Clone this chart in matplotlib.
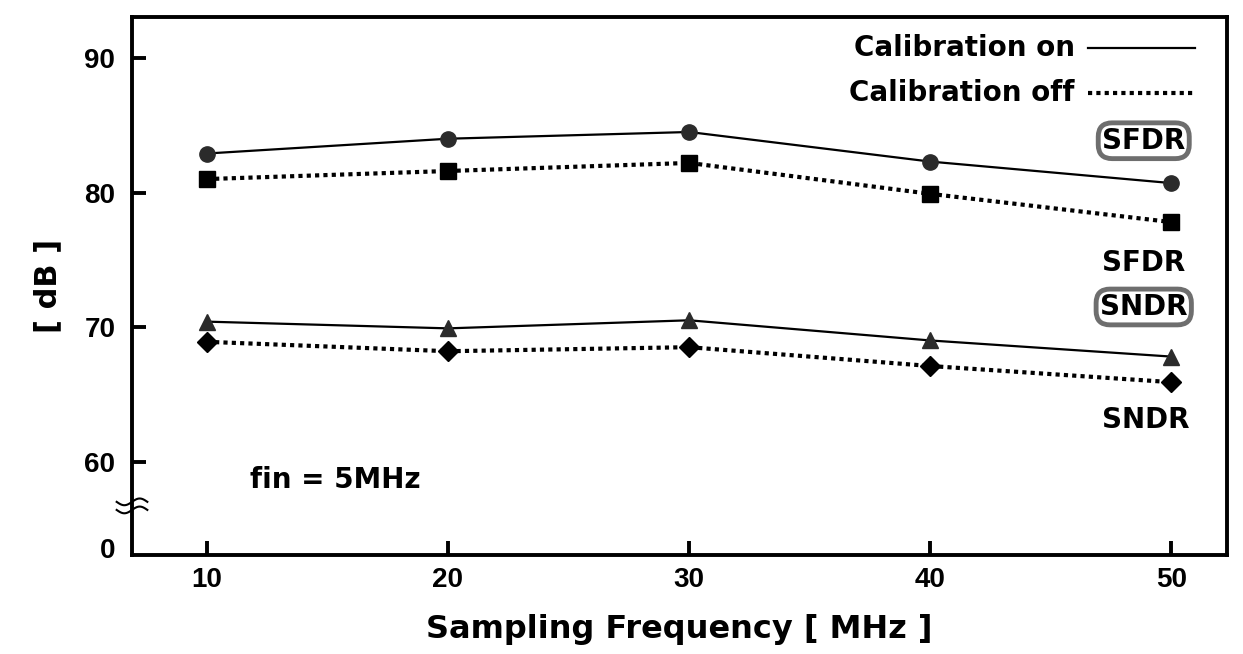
import numpy as np
import matplotlib
matplotlib.use("Agg")
import matplotlib.pyplot as plt
import matplotlib.transforms as mtransforms

plt.rcParams['font.family'] = ['Liberation Sans', 'DejaVu Sans']
plt.rcParams['font.weight'] = 'bold'
WIDE = ['DejaVu Sans']

# sampling frequency [MHz]
freq = [10, 20, 30, 40, 50]

# measured values [dB]
sfdr_on = [82.9, 84.0, 84.5, 82.3, 80.7]
sfdr_off = [81.0, 81.6, 82.2, 79.9, 77.8]
sndr_on = [70.4, 69.9, 70.5, 69.0, 67.8]
sndr_off = [68.9, 68.2, 68.5, 67.1, 65.9]

y_ticks = [53.6, 60, 70, 80, 90]
y_tick_labels = ['0', '60', '70', '80', '90']
x_ticks = [10, 20, 30, 40, 50]

fig = plt.figure(figsize=(12.43, 6.54), dpi=100)
ax = fig.add_axes([0.1062, 0.1514, 0.8809, 0.8226])

# curves
ax.plot(freq, sfdr_on, color='black', lw=1.6, marker='o', ms=11,
        mfc='#2b2b2b', mec='#2b2b2b', zorder=3)
ax.plot(freq, sfdr_off, color='black', lw=3, ls=(0, (1.0, 1.0)), marker='s', ms=11,
        mfc='black', mec='black', zorder=3)
ax.plot(freq, sndr_on, color='black', lw=1.6, marker='^', ms=12,
        mfc='#2b2b2b', mec='#2b2b2b', zorder=3)
ax.plot(freq, sndr_off, color='black', lw=3, ls=(0, (1.0, 1.0)), marker='D', ms=10,
        mfc='black', mec='black', zorder=3)

ax.set_xlim(6.9, 52.3)
ax.set_ylim(53.05, 93.05)

ax.set_xticks(x_ticks)
ax.set_xticklabels([str(v) for v in x_ticks])
ax.set_yticks(y_ticks)
ax.set_yticklabels(y_tick_labels)
ax.tick_params(axis='both', direction='in', length=10, width=2.8, labelsize=20)
ax.tick_params(axis='x', pad=9)
ax.tick_params(axis='y', pad=12)
ax.yaxis.get_major_ticks()[0].tick1line.set_visible(False)
for sp in ax.spines.values():
    sp.set_linewidth(2.8)

ax.set_xlabel('Sampling Frequency [ MHz ]', fontsize=23, fontweight='bold',
              family=WIDE, labelpad=15)
ax.set_ylabel('[ dB ]', fontsize=22, fontweight='bold', family=WIDE, labelpad=16)

# axis break mark
trans = mtransforms.blended_transform_factory(ax.transAxes, ax.transData)
t = np.linspace(-0.014, 0.014, 40)
for off in (0.3, -0.3):
    ax.plot(t, 56.7 + off + 0.25 * np.sin(t / 0.014 * np.pi), color='black', lw=1.5,
            transform=trans, clip_on=False, zorder=4)

# legend drawn as text and lines
ax.text(0.861, 0.942, 'Calibration on', transform=ax.transAxes, ha='right', va='center',
        fontsize=20, fontweight='bold', family=WIDE)
ax.plot([0.873, 0.971], [0.942, 0.942], color='black', lw=1.6, transform=ax.transAxes)
ax.text(0.861, 0.859, 'Calibration off', transform=ax.transAxes, ha='right', va='center',
        fontsize=20, fontweight='bold', family=WIDE)
ax.plot([0.873, 0.971], [0.859, 0.859], color='black', lw=3, ls=(0, (1.0, 1.0)),
        transform=ax.transAxes)

box = dict(boxstyle='round,pad=0.14,rounding_size=0.5', fc='white', ec='#6e6e6e', lw=3.5)
ax.text(0.924, 0.770, 'SFDR', transform=ax.transAxes, ha='center', va='center',
        fontsize=20, fontweight='bold', family=WIDE, bbox=box)
ax.text(0.924, 0.543, 'SFDR', transform=ax.transAxes, ha='center', va='center',
        fontsize=20, fontweight='bold', family=WIDE)
ax.text(0.924, 0.461, 'SNDR', transform=ax.transAxes, ha='center', va='center',
        fontsize=20, fontweight='bold', family=WIDE, bbox=box)
ax.text(0.926, 0.251, 'SNDR', transform=ax.transAxes, ha='center', va='center',
        fontsize=20, fontweight='bold', family=WIDE)

ax.text(0.108, 0.140, 'fin = 5MHz', transform=ax.transAxes, ha='left', va='center',
        fontsize=20, fontweight='bold', family=WIDE)

fig.savefig('out.png', dpi=100)
